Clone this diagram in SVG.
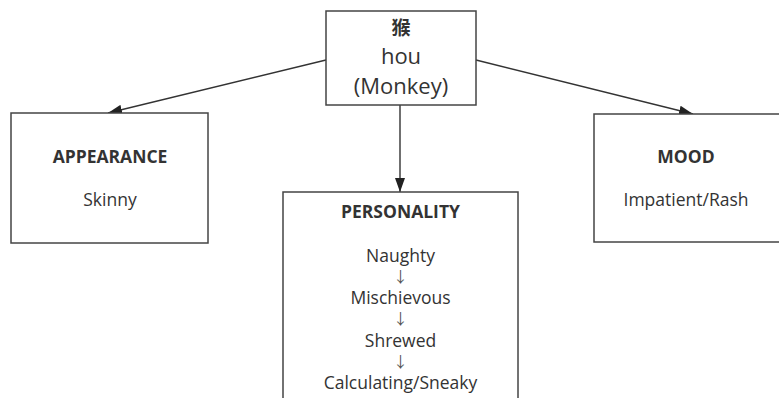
<svg xmlns="http://www.w3.org/2000/svg" width="779" height="398" viewBox="0 0 779 398">
<style>
.box{fill:#fff;stroke:#444;stroke-width:1.5}
.t{font-family:"Open Sans","Noto Sans CJK SC",sans-serif;fill:#333;text-anchor:middle}
.b{font-weight:bold}
.s{font-size:17.5px}
.ar{font-size:15px;fill:#555}
.c{stroke:#333;stroke-width:1.4;fill:none;marker-end:url(#ah)}
</style>
<defs>
<marker id="ah" viewBox="0 0 14 10" refX="14" refY="5" markerWidth="14" markerHeight="10" markerUnits="userSpaceOnUse" orient="auto">
<path d="M0,0 L14,5 L0,10 z" fill="#222"/>
</marker>
</defs>
<rect width="779" height="398" fill="#fff"/>
<g id="connectors">
<line class="c" x1="326" y1="60" x2="108" y2="113"/>
<line class="c" x1="476" y1="60" x2="693" y2="114"/>
<line class="c" x1="400" y1="105" x2="400" y2="192"/>
</g>
<g id="monkey">
<rect class="box" x="326" y="11" width="150" height="94"/>
<text class="t b" x="401" y="34.5" font-size="19">猴</text>
<text class="t" x="401" y="64" font-size="22">hou<tspan x="401" y="94">(Monkey)</tspan></text>
</g>
<g id="appearance">
<rect class="box" x="11" y="113" width="197" height="130"/>
<text class="t b s" x="110" y="163">APPEARANCE</text>
<text class="t s" x="110" y="206">Skinny</text>
</g>
<g id="personality">
<rect class="box" x="283" y="192" width="235" height="220"/>
<text class="t b s" x="400.5" y="218">PERSONALITY</text>
<text class="t s" x="400.5" y="262">Naughty<tspan class="ar" x="400.5" y="282">↓</tspan><tspan x="400.5" y="304">Mischievous</tspan><tspan class="ar" x="400.5" y="324">↓</tspan><tspan x="400.5" y="347">Shrewed</tspan><tspan class="ar" x="400.5" y="367">↓</tspan><tspan x="400.5" y="389">Calculating/Sneaky</tspan></text>
</g>
<g id="mood">
<rect class="box" x="594" y="114" width="200" height="128"/>
<text class="t b s" x="686" y="163">MOOD</text>
<text class="t s" x="686" y="206">Impatient/Rash</text>
</g>
</svg>
